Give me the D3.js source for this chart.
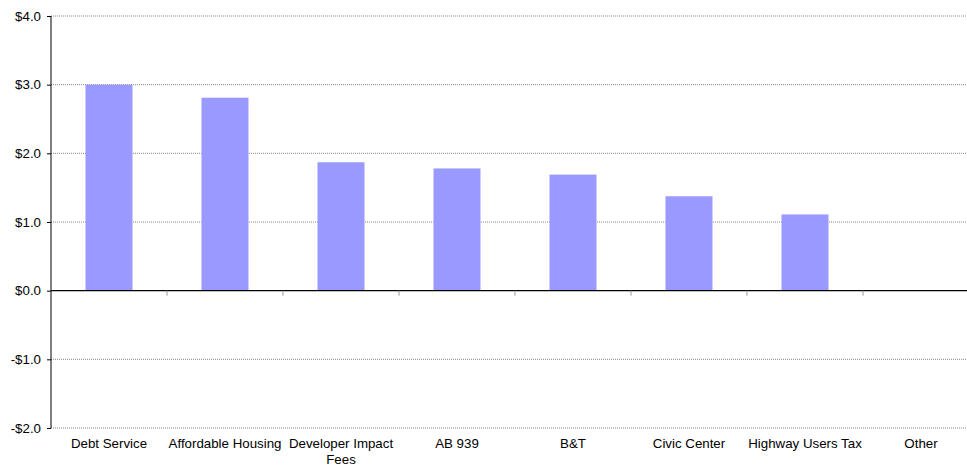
<!DOCTYPE html>
<html>
<head>
<meta charset="utf-8">
<script src="https://cdn.jsdelivr.net/npm/d3@7"></script>
<style>
  body { margin: 0; background: #fff; }
  svg { font-family: "Liberation Sans", Arial, sans-serif; }
  .grid line { stroke: #888; stroke-dasharray: 1,1; }
</style>
</head>
<body>
<div id="chart"></div>
<script>
// Data
const categories = ["Debt Service", "Affordable Housing", "Developer Impact Fees", "AB 939",
                    "B&T", "Civic Center", "Highway Users Tax", "Other"];
const values = [3.0, 2.81, 1.87, 1.78, 1.69, 1.375, 1.11, 0];
const yTicks = [-2, -1, 0, 1, 2, 3, 4];

const W = 967, H = 466;
const margin = { top: 16, right: -12, bottom: 38, left: 51 };
const width = W - margin.left - margin.right;
const height = H - margin.top - margin.bottom;
const fontSize = 13.3;

const svg = d3.select("#chart").append("svg")
    .attr("width", W).attr("height", H);
const g = svg.append("g")
    .attr("transform", `translate(${margin.left},${margin.top})`);

const x = d3.scaleBand().domain(categories).range([0, width]).paddingInner(0).paddingOuter(0);
const y = d3.scaleLinear().domain([-2, 4]).range([height, 0]);

// gridlines
g.append("g").attr("class", "grid")
    .selectAll("line").data(yTicks.filter(d => d !== 0))
    .join("line")
    .attr("x1", 0).attr("x2", W)
    .attr("y1", d => y(d)).attr("y2", d => y(d));

// bars
const barW = x.bandwidth() * 0.405;
g.selectAll("rect.bar").data(values)
    .join("rect")
    .attr("class", "bar")
    .attr("x", (d, i) => x(categories[i]) + (x.bandwidth() - barW) / 2)
    .attr("width", barW)
    .attr("y", d => y(Math.max(0, d)))
    .attr("height", d => Math.abs(y(d) - y(0)))
    .attr("fill", "#9999ff");

// y axis
const yAxis = d3.axisLeft(y).tickValues(yTicks).tickSize(4)
    .tickFormat(d => (d < 0 ? "-$" : "$") + Math.abs(d).toFixed(1));
const ya = g.append("g").call(yAxis);
ya.select(".domain").attr("stroke", "#000").attr("d", `M0,0V${height}`);
ya.selectAll(".tick line").attr("stroke", "#000");
ya.selectAll(".tick text").attr("x", -10).attr("font-size", fontSize).attr("fill", "#000");

// zero line with category ticks
g.append("line")
    .attr("x1", 0).attr("x2", W)
    .attr("y1", y(0)).attr("y2", y(0))
    .attr("stroke", "#000").attr("stroke-width", 1.3);
g.selectAll("line.ctick").data(categories.slice(1))
    .join("line").attr("class", "ctick")
    .attr("x1", d => x(d)).attr("x2", d => x(d))
    .attr("y1", y(0)).attr("y2", y(0) + 5)
    .attr("stroke", "#999");

// category labels
const labelLines = { "Developer Impact Fees": ["Developer Impact", "Fees"] };
g.selectAll("text.cat").data(categories)
    .join("text").attr("class", "cat")
    .attr("text-anchor", "middle")
    .attr("font-size", fontSize)
    .attr("fill", "#000")
    .attr("x", d => x(d) + x.bandwidth() / 2)
    .attr("y", height + 20)
    .each(function (d) {
        const lines = labelLines[d] || [d];
        d3.select(this).selectAll("tspan").data(lines).join("tspan")
            .attr("x", x(d) + x.bandwidth() / 2)
            .attr("dy", (l, i) => i === 0 ? 0 : 16)
            .text(l => l);
    });
</script>
</body>
</html>
